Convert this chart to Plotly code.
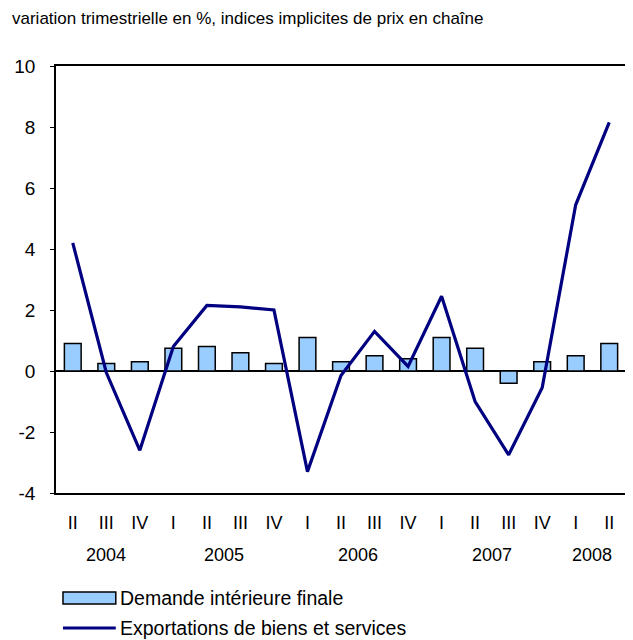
import plotly.graph_objects as go

# quarterly data, 2004 Q2 to 2008 Q2
quarters = ["II", "III", "IV", "I", "II", "III", "IV", "I", "II", "III", "IV",
            "I", "II", "III", "IV", "I", "II"]
years = ["2004"] * 3 + ["2005"] * 4 + ["2006"] * 4 + ["2007"] * 4 + ["2008"] * 2
demande = [0.9, 0.25, 0.3, 0.75, 0.8, 0.6, 0.25, 1.1, 0.3, 0.5, 0.4,
           1.1, 0.75, -0.4, 0.3, 0.5, 0.9]
exportations = [4.2, -0.05, -2.6, 0.8, 2.15, 2.1, 2.0, -3.3, -0.15, 1.3, 0.15,
                2.45, -1.0, -2.75, -0.55, 5.45, 8.15]
y_ticks = [-4, -2, 0, 2, 4, 6, 8, 10]

title = "variation trimestrielle en %, indices implicites de prix en chaîne"
name_bar = "Demande intérieure finale"
name_line = "Exportations de biens et services"

# page body has an 8px margin, so work in page pixels and shift
OFF = 8
W, H = 633 - OFF, 640 - OFF
L, R, T, B = 56 - OFF, 628 - OFF, 66 - OFF, 493 - OFF  # plot area
FONT = "Arial, Liberation Sans, sans-serif"


def px_x(p):
    return (p - OFF - L) / (R - L)


def px_y(p):
    return (B - (p - OFF)) / (B - T)


idx = list(range(len(quarters)))

fig = go.Figure()
fig.add_trace(go.Bar(x=idx, y=demande, width=0.5, name=name_bar,
                     marker=dict(color="#99ccff", line=dict(color="black", width=1.5))))
fig.add_trace(go.Scatter(x=idx, y=exportations, mode="lines", name=name_line,
                         line=dict(color="#000080", width=3.2)))

# year labels centred under their quarters
for yr in dict.fromkeys(years):
    pos = [i for i, y in zip(idx, years) if y == yr]
    fig.add_annotation(x=sum(pos) / len(pos), y=px_y(555), xref="x", yref="paper",
                       text=yr, showarrow=False, yanchor="middle",
                       font=dict(size=18, color="black", family=FONT))

# legend drawn by hand to match the wide symbols
fig.add_shape(type="rect", xref="paper", yref="paper",
              x0=px_x(63), x1=px_x(116), y0=px_y(592), y1=px_y(604),
              fillcolor="#99ccff", line=dict(color="black", width=1.5))
fig.add_shape(type="line", xref="paper", yref="paper",
              x0=px_x(63), x1=px_x(116), y0=px_y(628), y1=px_y(628),
              line=dict(color="#000080", width=3))
fig.add_annotation(x=px_x(118), y=px_y(598), xref="paper", yref="paper", text=name_bar,
                   showarrow=False, xanchor="left", yanchor="middle",
                   font=dict(size=19.5, color="black", family=FONT))
fig.add_annotation(x=px_x(118), y=px_y(628), xref="paper", yref="paper", text=name_line,
                   showarrow=False, xanchor="left", yanchor="middle",
                   font=dict(size=19.5, color="black", family=FONT))

fig.update_layout(
    width=W, height=H,
    margin=dict(l=L, r=W - R, t=T, b=H - B, pad=0),
    paper_bgcolor="white", plot_bgcolor="white",
    showlegend=False,
    font=dict(family=FONT, size=18, color="black"),
    title=dict(text=title, x=(12 - OFF) / W, xanchor="left", xref="container",
               y=1 - (18 - OFF) / H, yanchor="middle", yref="container",
               font=dict(size=17, color="black", family=FONT)),
)
fig.update_xaxes(range=[-0.5, len(idx) - 0.5], tickvals=idx, ticktext=quarters,
                 showgrid=False, zeroline=False, showline=True, mirror=True,
                 linecolor="black", linewidth=1.5, ticks="", ticklabelstandoff=13,
                 tickfont=dict(size=18))
fig.update_yaxes(range=[-4, 10], tickvals=y_ticks, ticktext=[str(v) for v in y_ticks],
                 showgrid=False, zeroline=True,
                 zerolinecolor="black", zerolinewidth=1.5, showline=True, mirror=True,
                 linecolor="black", linewidth=1.5, ticks="outside", ticklen=4,
                 tickcolor="black", ticklabelstandoff=11, tickfont=dict(size=19))

fig.write_html("out.html")
